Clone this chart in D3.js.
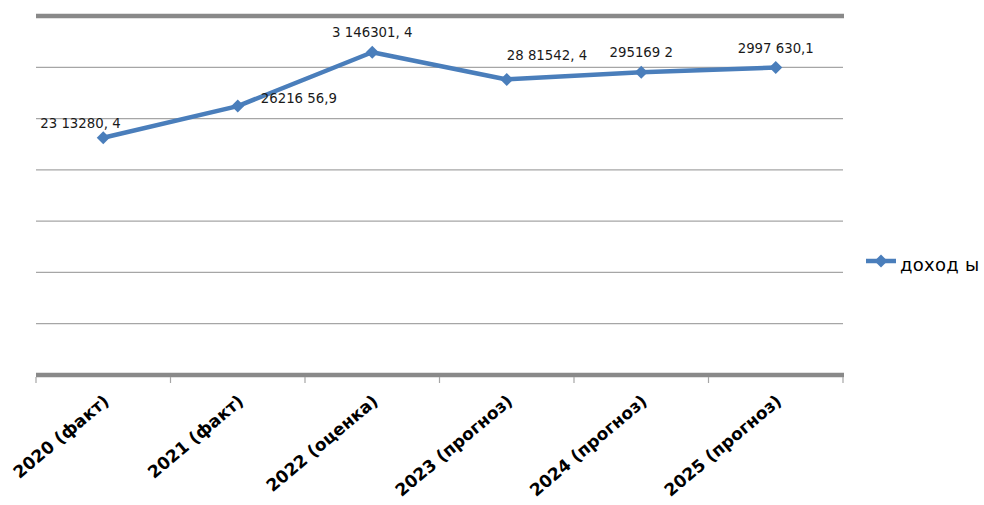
<!DOCTYPE html>
<html><head><meta charset="utf-8">
<script src="https://cdn.jsdelivr.net/npm/d3@7"></script>
<style>body{margin:0;background:#fff;}svg{display:block;}</style>
</head><body>
<svg id="c" width="984" height="505"></svg>
<script>
const categories = ["2020 (факт)", "2021 (факт)", "2022 (оценка)", "2023 (прогноз)", "2024 (прогноз)", "2025 (прогноз)"];
const values = [2313280.4, 2621656.9, 3146301.4, 2881542.4, 2951692, 2997630.1];
const valueLabels = ["23 13280, 4", "26216 56,9", "3 146301, 4", "28 81542, 4", "295169 2", "2997 630,1"];
const labelPlacement = ["aboveLeft", "right", "above", "aboveRight", "above", "above"];
const yTicks = [0, 500000, 1000000, 1500000, 2000000, 2500000, 3000000, 3500000];
const seriesName = "доход ы";

const svg = d3.select("#c");
const L = 36, R = 843, T = 16, B = 375;
const x = d3.scaleBand().domain(categories).range([L, R]).paddingInner(0).paddingOuter(0);
const y = d3.scaleLinear().domain([0, 3500000]).range([B, T]);
const cx = d => x(d) + x.bandwidth() / 2;

// gridlines
svg.append("g").selectAll("line").data(yTicks.slice(1, -1)).join("line")
  .attr("x1", L).attr("x2", R).attr("y1", d => y(d)).attr("y2", d => y(d))
  .attr("stroke", "#a6a6a6").attr("stroke-width", 1.3);
// top border
svg.append("line").attr("x1", L).attr("x2", R + 1).attr("y1", y(3500000)).attr("y2", y(3500000))
  .attr("stroke", "#898989").attr("stroke-width", 4.5);

// x axis
const xAxis = d3.axisBottom(x).tickSize(0).tickFormat("");
const gx = svg.append("g").attr("transform", `translate(0,${B})`).call(xAxis);
gx.select(".domain").remove();
svg.append("line").attr("x1", L).attr("x2", R + 1).attr("y1", B).attr("y2", B)
  .attr("stroke", "#898989").attr("stroke-width", 4.5);
const bounds = categories.map(c => x(c)).concat([R]);
svg.append("g").selectAll("line").data(bounds).join("line")
  .attr("x1", d => d).attr("x2", d => d).attr("y1", B + 2).attr("y2", B + 8)
  .attr("stroke", "#a6a6a6").attr("stroke-width", 1.2);
svg.append("g").selectAll("text").data(categories).join("text")
  .attr("transform", d => `translate(${cx(d) + 7},${B + 28}) rotate(-40)`)
  .attr("text-anchor", "end")
  .attr("font-family", "DejaVu Sans, sans-serif").attr("font-weight", "bold")
  .attr("font-size", 17).attr("fill", "#000")
  .text(d => d);

// line
const color = "#4a7ebb";
const line = d3.line().x((d, i) => cx(categories[i])).y(d => y(d));
svg.append("path").datum(values).attr("d", line)
  .attr("fill", "none").attr("stroke", color).attr("stroke-width", 4.5).attr("stroke-linejoin", "round");
const diamond = "M0,-6.5L6.5,0L0,6.5L-6.5,0Z";
svg.append("g").selectAll("path").data(values).join("path")
  .attr("transform", (d, i) => `translate(${cx(categories[i])},${y(d)})`)
  .attr("d", diamond).attr("fill", color);

// data labels
const off = {
  aboveLeft: {dx: -63, dy: -10, anchor: "start"},
  right: {dx: 23, dy: -3, anchor: "start"},
  above: {dx: 0, dy: -15, anchor: "middle"},
  aboveRight: {dx: 0, dy: -19, anchor: "start"}
};
svg.append("g").selectAll("text").data(values).join("text")
  .attr("x", (d, i) => cx(categories[i]) + off[labelPlacement[i]].dx)
  .attr("y", (d, i) => y(d) + off[labelPlacement[i]].dy)
  .attr("text-anchor", (d, i) => off[labelPlacement[i]].anchor)
  .attr("font-family", "DejaVu Sans, sans-serif").attr("font-size", 13.3).attr("fill", "#1a1a1a")
  .text((d, i) => valueLabels[i]);

// legend
const lg = svg.append("g").attr("transform", "translate(866,261)");
lg.append("line").attr("x1", 0).attr("x2", 30).attr("stroke", color).attr("stroke-width", 4.5);
lg.append("path").attr("transform", "translate(15,0)").attr("d", diamond).attr("fill", color);
lg.append("text").attr("x", 34).attr("y", 10).attr("font-family", "DejaVu Sans, sans-serif")
  .attr("font-size", 18).attr("letter-spacing", 0.3).attr("fill", "#000").text(seriesName);
</script>
</body></html>
